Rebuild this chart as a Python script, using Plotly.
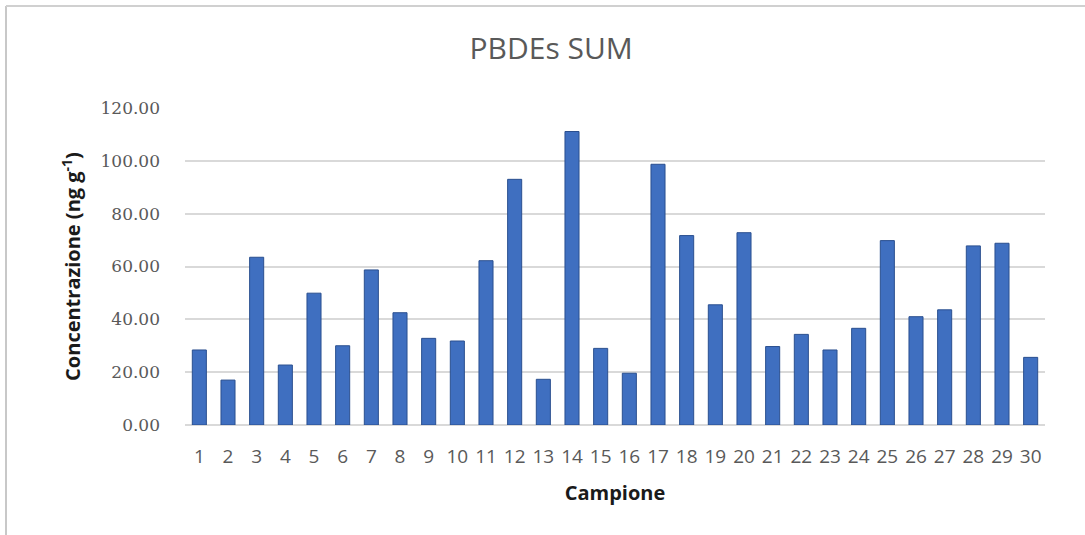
import plotly.graph_objects as go

# Sample numbers (Campione) and summed PBDE concentration (ng g-1)
campioni = [str(i) for i in range(1, 31)]
pbde_sum = [28.4, 17.0, 63.5, 22.7, 49.9, 30.0, 58.7, 42.5, 32.8, 31.8,
            62.2, 93.0, 17.3, 111.1, 29.0, 19.6, 98.7, 71.7, 45.5, 72.8,
            29.7, 34.3, 28.4, 36.6, 69.8, 41.0, 43.6, 67.8, 68.8, 25.6]
y_ticks = [0, 20, 40, 60, 80, 100, 120]
y_tick_labels = [f"{v:.2f}" for v in y_ticks]

# plot area in pixels, used to place the frame lines in paper units
PLOT_W, PLOT_H = 860, 317
M_L, M_R, M_T, M_B = 185, 40, 108, 110

fig = go.Figure()
fig.add_trace(go.Bar(
    x=campioni,
    y=pbde_sum,
    marker=dict(color="#3F6FC0", line=dict(color="#2A4F8F", width=1)),
    hoverinfo="x+y",
))

frame_x = -(M_L - 6) / PLOT_W
frame_top = (PLOT_H + M_T - 6) / PLOT_H

fig.update_layout(
    width=1085,
    height=535,
    margin=dict(l=M_L, r=M_R, t=M_T, b=M_B),
    paper_bgcolor="white",
    plot_bgcolor="white",
    showlegend=False,
    bargap=0.51,
    title=dict(
        text="PBDEs SUM",
        x=0.508,
        xanchor="center",
        y=0.91,
        yanchor="middle",
        font=dict(family="Open Sans", size=30, color="#595959"),
    ),
    xaxis=dict(
        type="category",
        showgrid=False,
        showline=False,
        ticks="",
        ticklabelstandoff=18,
        tickfont=dict(family="Open Sans", size=19, color="#595959"),
        title=dict(
            text="<b>Campione</b>",
            standoff=17,
            font=dict(family="Open Sans", size=20, color="#1a1a1a"),
        ),
    ),
    yaxis=dict(
        range=[0, 120],
        tickvals=y_ticks,
        ticktext=y_tick_labels,
        showgrid=True,
        gridcolor="#d9d9d9",
        gridwidth=1.5,
        zeroline=True,
        zerolinecolor="#d9d9d9",
        zerolinewidth=1.5,
        showline=False,
        ticks="",
        ticklabelstandoff=24,
        tickfont=dict(family="DejaVu Serif", size=17, color="#595959"),
        title=dict(
            text="<b>Concentrazione (ng g<sup>-1</sup>)</b>",
            standoff=14,
            font=dict(family="Open Sans", size=20, color="#1a1a1a"),
        ),
    ),
    shapes=[
        # light frame along the left and top edges of the chart area
        dict(type="line", xref="paper", yref="paper", x0=frame_x, x1=frame_x,
             y0=-M_B / PLOT_H, y1=frame_top, line=dict(color="#c8c8c8", width=2)),
        dict(type="line", xref="paper", yref="paper", x0=frame_x, x1=(PLOT_W + M_R) / PLOT_W,
             y0=frame_top, y1=frame_top, line=dict(color="#d0d0d0", width=2)),
    ],
)

fig.write_html("out.html")
